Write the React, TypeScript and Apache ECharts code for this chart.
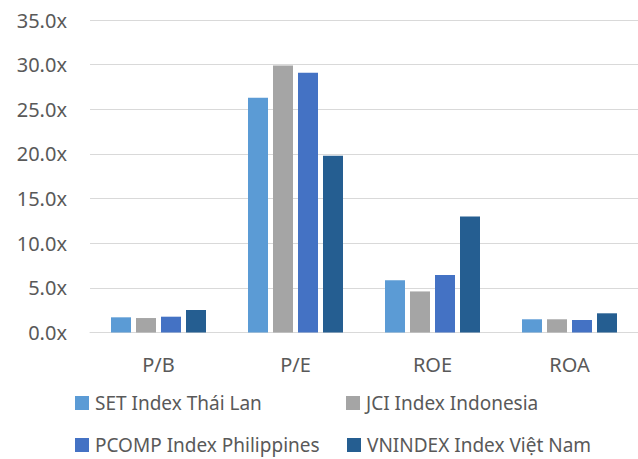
import React, { useEffect, useRef } from "react";
import * as echarts from "echarts";

const categories = ["P/B", "P/E", "ROE", "ROA"];
const seriesNames = [
  "SET Index Thái Lan",
  "JCI Index Indonesia",
  "PCOMP Index Philippines",
  "VNINDEX Index Việt Nam",
];
const setValues = [1.7, 26.3, 5.85, 1.48];
const jciValues = [1.62, 29.9, 4.6, 1.48];
const pcompValues = [1.77, 29.1, 6.45, 1.4];
const vnValues = [2.52, 19.8, 13.0, 2.15];
const colors = ["#5B9BD5", "#A5A5A5", "#4472C4", "#255E91"];

const FONT = "Noto Sans";

export default function App() {
  const ref = useRef<HTMLDivElement>(null);
  useEffect(() => {
    if (!ref.current) return;
    const chart = echarts.init(ref.current, undefined, { renderer: "svg" });
    const values = [setValues, jciValues, pcompValues, vnValues];
    const legendPos = [
      { left: 75, top: 393 },
      { left: 346, top: 393 },
      { left: 75, top: 435 },
      { left: 347, top: 435 },
    ];
    chart.setOption({
      animation: false,
      grid: { left: 90, right: -5, top: 20, bottom: 126.5 },
      legend: seriesNames.map((n, i) => ({
        data: [n],
        left: legendPos[i].left,
        top: legendPos[i].top,
        itemWidth: 14,
        itemHeight: 14,
        icon: "rect",
        itemGap: 0,
        padding: 0,
        textStyle: {
          fontFamily: FONT,
          fontSize: 19,
          lineHeight: 20,
          color: "#595959",
          padding: [0, 0, 0, 1],
        },
      })),
      xAxis: {
        type: "category",
        data: categories,
        axisTick: { show: false },
        axisLine: { lineStyle: { color: "#D9D9D9", width: 1 } },
        axisLabel: { fontFamily: FONT, fontSize: 20, color: "#595959", margin: 22 },
      },
      yAxis: {
        type: "value",
        min: 0,
        max: 35,
        interval: 5,
        axisLine: { show: false },
        axisTick: { show: false },
        splitLine: { lineStyle: { color: "#D9D9D9", width: 1 } },
        axisLabel: {
          fontFamily: FONT,
          fontSize: 20,
          color: "#595959",
          margin: 23,
          formatter: (v: number) => v.toFixed(1) + "x",
        },
      },
      series: seriesNames.map((n, i) => ({
        name: n,
        type: "bar",
        data: values[i],
        barWidth: 20,
        barGap: "25%",
        itemStyle: { color: colors[i] },
      })),
    });
    return () => chart.dispose();
  }, []);
  return <div ref={ref} style={{ width: 638, height: 459, position: "absolute", left: 0, top: 0 }} />;
}
